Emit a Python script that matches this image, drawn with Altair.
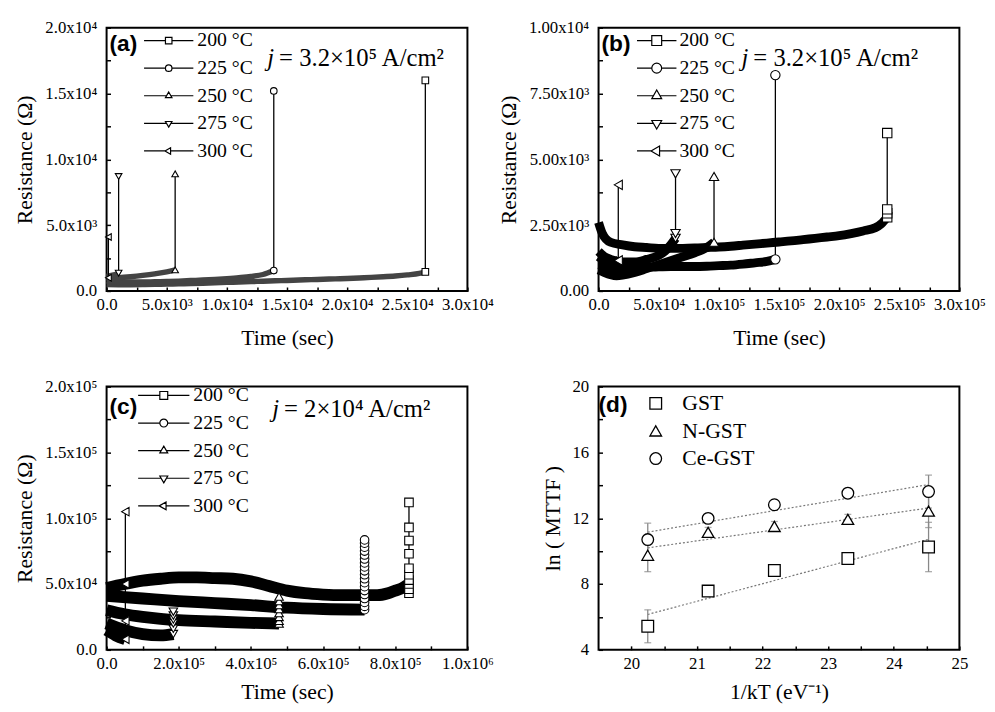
import altair as alt
import pandas as pd

TEMPS = ["200 °C", "225 °C", "250 °C", "275 °C", "300 °C"]
SHAPES = ["square", "circle", "triangle-up", "triangle-down", "triangle-left"]

# ---------------- panel (a): j = 3.2e5 A/cm2 ----------------
a_t_200 = [0, 1000, 2000, 3000, 4000, 5000, 6000, 7000, 8000, 9000, 10000, 11000, 12000, 13000,
           14000, 15000, 16000, 17000, 18000, 19000, 20000, 21000, 22000, 23000, 24000, 25000, 26000, 26500]
a_r_200 = [480, 470, 470, 480, 500, 520, 540, 560, 590, 620, 650, 680, 710, 740,
           770, 800, 830, 860, 890, 920, 950, 990, 1030, 1080, 1140, 1220, 1330, 1450]
a_t_225 = [0, 1000, 2000, 3000, 4000, 5000, 6000, 7000, 8000, 9000, 10000, 11000, 12000, 13000, 13900]
a_r_225 = [750, 700, 680, 680, 700, 720, 750, 790, 830, 880, 940, 1010, 1100, 1250, 1550]
a_t_250 = [0, 1000, 2000, 3000, 4000, 5000, 5700]
a_r_250 = [950, 1000, 1080, 1180, 1300, 1450, 1600]
a_t_275 = [0, 500, 1000]
a_r_275 = [1100, 1200, 1350]
a_t_300 = [0, 150]
a_r_300 = [950, 1000]
# failure jumps: time of failure, resistance values along the jump
a_fail_t = [26500, 13900, 5700, 1000, 150]
a_jump_200 = [1450, 16000]
a_jump_225 = [1550, 15200]
a_jump_250 = [1600, 8900]
a_jump_275 = [1350, 8700]
a_jump_300 = [1000, 4100]

# ---------------- panel (b): j = 3.2e5 A/cm2 ----------------
b_t_200 = [0, 3000, 10000, 20000, 30000, 40000, 50000, 60000, 70000, 80000, 90000, 100000, 110000, 120000,
           130000, 140000, 150000, 160000, 170000, 180000, 190000, 200000, 210000, 220000, 230000, 235000, 240000]
b_r_200 = [2600, 2200, 1850, 1750, 1680, 1650, 1620, 1620, 1620, 1630, 1650, 1670, 1700, 1740,
           1780, 1820, 1860, 1900, 1950, 2000, 2050, 2100, 2180, 2280, 2400, 2550, 2800]
b_t_225 = [0, 5000, 10000, 20000, 30000, 40000, 50000, 60000, 70000, 80000, 90000, 100000, 110000,
           120000, 130000, 140000, 147000]
b_r_225 = [1000, 950, 900, 880, 880, 900, 920, 930, 930, 930, 940, 960, 980, 1020, 1070, 1120, 1200]
b_t_250 = [0, 5000, 10000, 15000, 20000, 30000, 40000, 50000, 60000, 70000, 80000, 90000, 96000]
b_r_250 = [800, 700, 620, 580, 600, 700, 850, 1000, 1150, 1300, 1450, 1650, 1850]
b_t_275 = [0, 5000, 10000, 20000, 30000, 40000, 50000, 55000, 60000, 64000]
b_r_275 = [1500, 1300, 1200, 1100, 1100, 1200, 1350, 1500, 1750, 2000]
b_t_300 = [0, 5000, 10000, 16400]
b_r_300 = [1300, 1150, 1100, 1160]
b_fail_t = [240000, 147000, 96000, 64000, 16400]
b_jump_200 = [2800, 2950, 3100, 6000]
b_jump_225 = [1200, 8200]
b_jump_250 = [1850, 4350]
b_jump_275 = [2000, 2180, 4450]
b_jump_300 = [1160, 4030]

# ---------------- panel (c): j = 2e4 A/cm2 ----------------
c_t_200 = [0, 50000, 100000, 150000, 200000, 250000, 300000, 350000, 400000, 450000, 500000, 550000,
           600000, 650000, 700000, 750000, 780000, 800000, 820000, 838000]
c_r_200 = [47000, 50000, 52500, 54000, 55000, 55000, 54500, 54000, 52000, 48500, 45000, 43000,
           42000, 41500, 41500, 41500, 43000, 45000, 47000, 50000]
c_t_225 = [0, 100000, 200000, 300000, 400000, 500000, 600000, 715000]
c_r_225 = [41000, 39000, 37000, 35500, 34000, 32000, 31000, 30500]
c_t_250 = [0, 50000, 100000, 150000, 200000, 300000, 400000, 478000]
c_r_250 = [30000, 27000, 25000, 23500, 22500, 21500, 20500, 20000]
c_t_275 = [0, 50000, 100000, 150000, 185000]
c_r_275 = [20000, 15000, 12000, 11000, 12000]
c_t_300 = [0, 25000, 52000]
c_r_300 = [15000, 11000, 8000]
c_fail_t = [838000, 715000, 478000, 185000, 52000]
c_jump_200 = [43000, 46000, 50000, 53000, 57000, 62000, 73000, 83000, 93000, 112000]
c_jump_225 = [30500, 33000, 36000, 39000, 42000, 45000, 48000, 51000, 54000, 57000, 60000,
              63000, 66000, 69000, 72000, 75000, 78000, 81000, 83500]
c_jump_250 = [20000, 22000, 25000, 28000, 31000, 34000, 37000, 40500]
c_jump_275 = [12000, 16000, 20000, 23000, 26000, 29000]
c_jump_300 = [8000, 22000, 50000, 105000]

# ---------------- panel (d): ln(MTTF) vs 1/kT ----------------
MATERIALS = ["GST", "N-GST", "Ce-GST"]
d_inv_kt = [20.25, 21.17, 22.18, 23.30, 24.53]
d_gst = [5.43, 7.57, 8.82, 9.55, 10.25]
d_ngst = [9.75, 11.14, 11.50, 11.93, 12.43]
d_cegst = [10.70, 11.99, 12.82, 13.52, 13.62]
d_gst_err = [1.0, 0.3, 0.3, 0.3, 1.5]
d_ngst_err = [1.0, 0.3, 0.3, 0.3, 1.0]
d_cegst_err = [1.0, 0.3, 0.3, 0.3, 1.0]

# axis ticks / labels
a_x_major = [0, 5000, 10000, 15000, 20000, 25000, 30000]
a_x_minor = [2500, 7500, 12500, 17500, 22500, 27500]
a_x_labels = ["0.0", "5.0x10³", "1.0x10⁴", "1.5x10⁴", "2.0x10⁴", "2.5x10⁴", "3.0x10⁴"]
a_y_major = [0, 5000, 10000, 15000, 20000]
a_y_minor = [2500, 7500, 12500, 17500]
a_y_labels = ["0.0", "5.0x10³", "1.0x10⁴", "1.5x10⁴", "2.0x10⁴"]

b_x_major = [0, 50000, 100000, 150000, 200000, 250000, 300000]
b_x_minor = [25000, 75000, 125000, 175000, 225000, 275000]
b_x_labels = ["0.0", "5.0x10⁴", "1.0x10⁵", "1.5x10⁵", "2.0x10⁵", "2.5x10⁵", "3.0x10⁵"]
b_y_major = [0, 2500, 5000, 7500, 10000]
b_y_minor = [1250, 3750, 6250, 8750]
b_y_labels = ["0.00", "2.50x10³", "5.00x10³", "7.50x10³", "1.00x10⁴"]

c_x_major = [0, 200000, 400000, 600000, 800000, 1000000]
c_x_minor = [100000, 300000, 500000, 700000, 900000]
c_x_labels = ["0.0", "2.0x10⁵", "4.0x10⁵", "6.0x10⁵", "8.0x10⁵", "1.0x10⁶"]
c_y_major = [0, 50000, 100000, 150000, 200000]
c_y_minor = [25000, 75000, 125000, 175000]
c_y_labels = ["0.0", "5.0x10⁴", "1.0x10⁵", "1.5x10⁵", "2.0x10⁵"]

d_x_major = [20, 21, 22, 23, 24, 25]
d_x_minor = [20.5, 21.5, 22.5, 23.5, 24.5]
d_x_labels = ["20", "21", "22", "23", "24", "25"]
d_y_major = [4, 8, 12, 16, 20]
d_y_minor = [6, 10, 14, 18]
d_y_labels = ["4", "8", "12", "16", "20"]

W, H = 366, 267
SERIF = "Liberation Serif"


def frame(triples):
    rows = []
    for name, ts, rs in triples:
        for t, r in zip(ts, rs):
            rows.append({"series": name, "t": t, "r": r})
    return pd.DataFrame(rows)


def jump_frame(fail_t, jumps):
    rows = []
    for name, t, rs in zip(TEMPS, fail_t, jumps):
        for r in rs:
            rows.append({"series": name, "t": t, "r": r})
    return pd.DataFrame(rows)


def label_expr(vals, labels):
    v = "[" + ",".join(repr(x) for x in vals) + "]"
    l = "[" + ",".join("'" + s + "'" for s in labels) + "]"
    return f"indexof({v}, datum.value) >= 0 ? {l}[indexof({v}, datum.value)] : ''"


def f(x):
    return f"{x:.3f}"


def legend_paths(half_line, half_mark, unit=5.0):
    L = half_line / unit
    m = half_mark / unit
    h = 1.732 * m
    sq = f"M {f(-L)} 0 H {f(-m)} M {f(m)} 0 H {f(L)} M {f(-m)} {f(-m)} H {f(m)} V {f(m)} H {f(-m)} Z"
    ci = (f"M {f(-L)} 0 H {f(-m)} M {f(m)} 0 H {f(L)} M {f(m)} 0 "
          f"A {f(m)} {f(m)} 0 1 1 {f(-m)} 0 A {f(m)} {f(m)} 0 1 1 {f(m)} 0 Z")
    w = 2 * m / 3
    tu = (f"M {f(-L)} 0 H {f(-w)} M {f(w)} 0 H {f(L)} "
          f"M 0 {f(-2*h/3)} L {f(m)} {f(h/3)} L {f(-m)} {f(h/3)} Z")
    td = (f"M {f(-L)} 0 H {f(-w)} M {f(w)} 0 H {f(L)} "
          f"M 0 {f(2*h/3)} L {f(m)} {f(-h/3)} L {f(-m)} {f(-h/3)} Z")
    tl = (f"M {f(-L)} 0 H {f(-2*h/3)} M {f(h/3)} 0 H {f(L)} "
          f"M {f(-2*h/3)} 0 L {f(h/3)} {f(-m)} L {f(h/3)} {f(m)} Z")
    return [sq, ci, tu, td, tl]


def make_axes(xmaj, xmin_, xlab, xtitle, ymaj, ymin_, ylab, ytitle, xtitle_pad):
    xax = alt.Axis(values=sorted(xmaj + xmin_), labelExpr=label_expr(xmaj, xlab), title=xtitle,
                   labelPadding=6, titlePadding=xtitle_pad)
    yax = alt.Axis(values=sorted(ymaj + ymin_), labelExpr=label_expr(ymaj, ylab), title=ytitle,
                   labelPadding=10, titlePadding=8)
    return xax, yax


def legend_layer(domain, shape_range, leg, font_size, sym_size, stroke_w):
    return alt.Chart(pd.DataFrame({"series": domain})).transform_filter(
        "datum.series == 'none'").mark_point(
        filled=False, color="black", strokeWidth=stroke_w, size=sym_size, opacity=1).encode(
        shape=alt.Shape("series:N", scale=alt.Scale(domain=domain, range=shape_range),
                        legend=alt.Legend(orient="none", legendX=leg["x"], legendY=leg["y"], title=None,
                                          labelFont=SERIF, labelFontSize=font_size, labelColor="black",
                                          symbolSize=sym_size, symbolStrokeWidth=stroke_w,
                                          symbolStrokeColor="black", symbolOpacity=1,
                                          labelOffset=leg["label_offset"], rowPadding=leg["row_pad"],
                                          padding=0)))


def resistance_panel(bands, jumps, tag, tag_y, j_rest, j_x, j_y, xdom, xaxis, ydom, yaxis,
                     band_w, band_c, msize, leg):
    band_df = frame(bands)
    jump_df = jumps
    x = alt.X("t:Q", scale=alt.Scale(domain=xdom, nice=False, zero=False), axis=xaxis)
    y = alt.Y("r:Q", scale=alt.Scale(domain=ydom, nice=False, zero=False), axis=yaxis)
    band = alt.Chart(band_df).mark_line(strokeWidth=band_w, color=band_c, interpolate="monotone",
                                        strokeJoin="round").encode(
        x=x, y=y, detail="series:N", order="t:Q")
    jline = alt.Chart(jump_df).mark_line(color="black", strokeWidth=1.3).encode(
        x=x, y=y, detail="series:N", order="r:Q")
    jpts = alt.Chart(jump_df).mark_point(filled=True, fill="white", stroke="black", strokeWidth=1.1,
                                         size=msize, opacity=1).encode(
        x=x, y=y,
        shape=alt.Shape("series:N", scale=alt.Scale(domain=TEMPS, range=SHAPES), legend=None))
    legl = legend_layer(TEMPS, legend_paths(leg["half_line"], leg["half_mark"]), leg, 20, 100, 1.2)
    tag_t = alt.Chart(pd.DataFrame({"s": [tag]})).mark_text(
        font="Liberation Sans", fontWeight="bold", fontSize=23, align="left", baseline="middle",
        color="black").encode(text="s:N", x=alt.value(3), y=alt.value(tag_y))
    j1 = alt.Chart(pd.DataFrame({"s": ["j"]})).mark_text(
        font=SERIF, fontStyle="italic", fontSize=25, align="left", baseline="alphabetic",
        color="black").encode(text="s:N", x=alt.value(j_x), y=alt.value(j_y))
    j2 = alt.Chart(pd.DataFrame({"s": [j_rest]})).mark_text(
        font=SERIF, fontSize=25, align="left", baseline="alphabetic",
        color="black").encode(text="s:N", x=alt.value(j_x + 12), y=alt.value(j_y))
    return alt.layer(band, jline, jpts, legl, tag_t, j1, j2).resolve_scale(
        shape="independent").properties(width=W, height=H)


# panel (a)
ax_a, ay_a = make_axes(a_x_major, a_x_minor, a_x_labels, "Time (sec)", a_y_major, a_y_minor, a_y_labels,
                       "Resistance (Ω)", 15)
panel_a = resistance_panel(
    [(TEMPS[0], a_t_200, a_r_200), (TEMPS[1], a_t_225, a_r_225), (TEMPS[2], a_t_250, a_r_250),
     (TEMPS[3], a_t_275, a_r_275), (TEMPS[4], a_t_300, a_r_300)],
    jump_frame(a_fail_t, [a_jump_200, a_jump_225, a_jump_250, a_jump_275, a_jump_300]),
    "(a)", 17, "= 3.2×10⁵ A/cm²", 163, 39, [0, 30000], ax_a, [0, 20000], ay_a,
    5.5, "#444444", 45,
    {"half_line": 25, "half_mark": 3.3, "x": 53, "y": 3, "label_offset": 19, "row_pad": 8})

# panel (b)
ax_b, ay_b = make_axes(b_x_major, b_x_minor, b_x_labels, "Time (sec)", b_y_major, b_y_minor, b_y_labels,
                       "Resistance (Ω)", 15)
panel_b = resistance_panel(
    [(TEMPS[0], b_t_200, b_r_200), (TEMPS[1], b_t_225, b_r_225), (TEMPS[2], b_t_250, b_r_250),
     (TEMPS[3], b_t_275, b_r_275), (TEMPS[4], b_t_300, b_r_300)],
    jump_frame(b_fail_t, [b_jump_200, b_jump_225, b_jump_250, b_jump_275, b_jump_300]),
    "(b)", 17, "= 3.2×10⁵ A/cm²", 145, 39, [0, 300000], ax_b, [0, 10000], ay_b,
    9, "black", 90,
    {"half_line": 20, "half_mark": 5, "x": 49, "y": 3, "label_offset": 13, "row_pad": 8})

# panel (c)
ax_c, ay_c = make_axes(c_x_major, c_x_minor, c_x_labels, "Time (sec)", c_y_major, c_y_minor, c_y_labels,
                       "Resistance (Ω)", 10)
panel_c = resistance_panel(
    [(TEMPS[0], c_t_200, c_r_200), (TEMPS[1], c_t_225, c_r_225), (TEMPS[2], c_t_250, c_r_250),
     (TEMPS[3], c_t_275, c_r_275), (TEMPS[4], c_t_300, c_r_300)],
    jump_frame(c_fail_t, [c_jump_200, c_jump_225, c_jump_250, c_jump_275, c_jump_300]),
    "(c)", 21, "= 2×10⁴ A/cm²", 168, 31, [0, 1000000], ax_c, [0, 200000], ay_c,
    12, "black", 75,
    {"half_line": 26, "half_mark": 4, "x": 48, "y": -1, "label_offset": 20, "row_pad": 8})

# panel (d)
d_rows = []
for mat, ys, es in zip(MATERIALS, [d_gst, d_ngst, d_cegst], [d_gst_err, d_ngst_err, d_cegst_err]):
    for xv, yv, ev in zip(d_inv_kt, ys, es):
        d_rows.append({"mat": mat, "x": xv, "y": yv, "lo": yv - ev, "hi": yv + ev})
d_df = pd.DataFrame(d_rows)

dx_ax, dy_ax = make_axes(d_x_major, d_x_minor, d_x_labels, "1/kT  (eV⁻¹)", d_y_major, d_y_minor,
                         d_y_labels, "ln ( MTTF )", 10)
dx = alt.X("x:Q", scale=alt.Scale(domain=[19.5, 25], nice=False, zero=False), axis=dx_ax)
dy = alt.Y("y:Q", scale=alt.Scale(domain=[4, 20], nice=False, zero=False), axis=dy_ax)
D_SHAPES = ["square", "triangle-up", "circle"]
fit = alt.Chart(d_df).transform_regression("x", "y", groupby=["mat"]).mark_line(
    color="#777777", strokeWidth=1.2, strokeDash=[2, 2]).encode(x=dx, y=dy, detail="mat:N")
err = alt.Chart(d_df).mark_errorbar(ticks={"size": 7, "color": "#888888"}, color="#888888",
                                    thickness=1.3).encode(
    x=dx,
    y=alt.Y("lo:Q", scale=alt.Scale(domain=[4, 20], nice=False, zero=False), axis=dy_ax),
    y2="hi:Q")
pts = alt.Chart(d_df).mark_point(filled=True, fill="white", stroke="black", strokeWidth=1.3,
                                 size=140, opacity=1).encode(
    x=dx, y=dy,
    shape=alt.Shape("mat:N", scale=alt.Scale(domain=MATERIALS, range=D_SHAPES), legend=None))
leg_d = legend_layer(MATERIALS, D_SHAPES,
                     {"x": 47, "y": 6, "label_offset": 16, "row_pad": 6}, 22, 140, 1.3)
tag_d = alt.Chart(pd.DataFrame({"s": ["(d)"]})).mark_text(
    font="Liberation Sans", fontWeight="bold", fontSize=23, align="left", baseline="middle",
    color="black").encode(text="s:N", x=alt.value(0), y=alt.value(19))
panel_d = alt.layer(fit, err, pts, leg_d, tag_d).resolve_scale(shape="independent").properties(
    width=W, height=H)

chart = alt.concat(panel_a, panel_b, panel_c, panel_d, columns=2).properties(
    spacing={"row": 97, "column": 133}, bounds="flush",
    padding={"left": 5, "top": 5, "right": 0, "bottom": 0}
).configure_view(
    stroke="black", strokeWidth=2
).configure_axis(
    labelFont=SERIF, labelFontSize=17, labelColor="black", labelFlush=False, labelOverlap=False,
    labelBound=False, titleFont=SERIF, titleFontSize=22, titleFontWeight="normal", titleColor="black",
    domain=False, grid=False, ticks=True, tickColor="black", tickWidth=1.5, tickSize=4, offset=-4
)

chart.save("out.html", embed_options={"renderer": "svg", "actions": False})
